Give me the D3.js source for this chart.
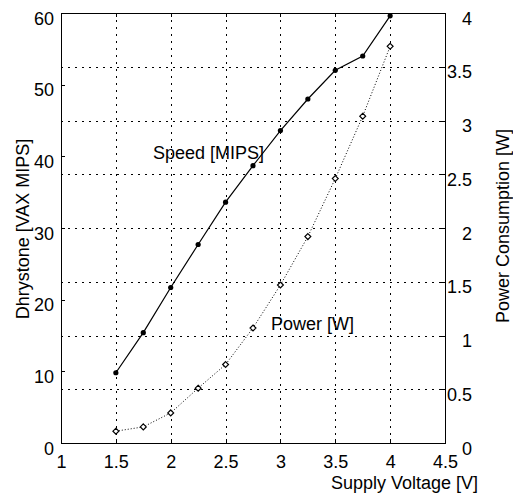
<!DOCTYPE html>
<html>
<head>
<meta charset="utf-8">
<script src="https://cdn.jsdelivr.net/npm/d3@7"></script>
<style>
  body { margin: 0; background: #fff; }
  text { font-family: "Liberation Sans", Arial, sans-serif; font-size: 18px; fill: #000; }
</style>
</head>
<body>
<div id="chart"></div>
<script>
// supply voltage samples and the two measured series
const voltage = [1.5, 1.75, 2.0, 2.25, 2.5, 2.75, 3.0, 3.25, 3.5, 3.75, 4.0];
const speed = [9.8, 15.4, 21.7, 27.7, 33.6, 38.7, 43.6, 48.0, 52.0, 54.0, 59.6];
const power = [0.11, 0.15, 0.28, 0.51, 0.73, 1.07, 1.47, 1.92, 2.46, 3.04, 3.69];

const xTicks = [1, 1.5, 2, 2.5, 3, 3.5, 4, 4.5];
const leftTicks = [0, 10, 20, 30, 40, 50, 60];
const rightTicks = [0, 0.5, 1, 1.5, 2, 2.5, 3, 3.5, 4];

const W = 513, H = 495;
const m = { left: 61, right: 445, top: 13, bottom: 443 };

const svg = d3.select('#chart').append('svg')
  .attr('width', W).attr('height', H);

const x = d3.scaleLinear().domain([1, 4.5]).range([m.left, m.right]);
const yL = d3.scaleLinear().domain([0, 60]).range([m.bottom, m.top]);
const yR = d3.scaleLinear().domain([0, 4]).range([m.bottom, m.top]);

// Grid (vertical at x ticks, horizontal at right-axis ticks)
const grid = svg.append('g').attr('stroke', '#000').attr('stroke-width', 1)
  .attr('stroke-dasharray', '2,5').attr('shape-rendering', 'crispEdges');
grid.selectAll('line.v').data(xTicks.slice(1, -1)).join('line')
  .attr('x1', d => Math.round(x(d)) + 0.5).attr('x2', d => Math.round(x(d)) + 0.5)
  .attr('y1', m.top).attr('y2', m.bottom);
grid.selectAll('line.h').data(rightTicks.slice(1, -1)).join('line')
  .attr('y1', d => Math.round(yR(d)) + 0.5).attr('y2', d => Math.round(yR(d)) + 0.5)
  .attr('x1', m.left).attr('x2', m.right);

// Axes with inward ticks
const ax = svg.append('g').attr('shape-rendering', 'crispEdges');
ax.append('g').attr('transform', `translate(0,${m.bottom})`)
  .call(d3.axisBottom(x).tickValues(xTicks).tickSizeInner(-4).tickSizeOuter(0).tickFormat(d3.format('')))
  .call(g => g.selectAll('text').attr('dy', '1.2em'));
ax.append('g').attr('transform', `translate(0,${m.top})`)
  .call(d3.axisTop(x).tickValues(xTicks).tickSizeInner(-4).tickSizeOuter(0).tickFormat(''));
ax.append('g').attr('transform', `translate(${m.left},0)`)
  .call(d3.axisLeft(yL).tickValues(leftTicks).tickSizeInner(-4).tickSizeOuter(0))
  .call(g => g.selectAll('text').attr('x', -7).attr('dy', '0.62em'));
ax.append('g').attr('transform', `translate(${m.right},0)`)
  .call(d3.axisRight(yR).tickValues(rightTicks).tickSizeInner(-4).tickSizeOuter(0).tickFormat(d3.format('')))
  .call(g => g.selectAll('text').attr('text-anchor', 'end').attr('x', 27).attr('dy', '0.62em'));
ax.selectAll('.domain').attr('stroke', '#000');
ax.selectAll('.tick line').attr('stroke', '#000');
ax.selectAll('.tick text').attr('font-size', null).attr('font-family', null).attr('fill', '#000');

// Speed series
const speedData = voltage.map((v, i) => [v, speed[i]]);
svg.append('path').datum(speedData)
  .attr('fill', 'none').attr('stroke', '#000').attr('stroke-width', 1.2)
  .attr('d', d3.line().x(d => x(d[0])).y(d => yL(d[1])));
svg.append('g').selectAll('circle').data(speedData).join('circle')
  .attr('cx', d => x(d[0])).attr('cy', d => yL(d[1])).attr('r', 2.6).attr('fill', '#000');

// Power series
const powerData = voltage.map((v, i) => [v, power[i]]);
svg.append('path').datum(powerData)
  .attr('fill', 'none').attr('stroke', '#000').attr('stroke-width', 1)
  .attr('stroke-dasharray', '1,2')
  .attr('d', d3.line().x(d => x(d[0])).y(d => yR(d[1])));
svg.append('g').selectAll('path.m').data(powerData).join('path')
  .attr('transform', d => `translate(${x(d[0])},${yR(d[1])})`)
  .attr('d', d3.symbol(d3.symbolDiamond2, 22))
  .attr('fill', '#fff').attr('stroke', '#000').attr('stroke-width', 1.2);

// Annotations
svg.append('text').attr('x', 153).attr('y', 159).text('Speed [MIPS]');
svg.append('text').attr('x', 271).attr('y', 330).text('Power [W]');

// Axis titles
svg.append('text').attr('x', 478).attr('y', 489).attr('text-anchor', 'end').text('Supply Voltage [V]');
svg.append('text').attr('transform', 'translate(29,229) rotate(-90)').attr('text-anchor', 'middle')
  .text('Dhrystone [VAX MIPS]');
svg.append('text').attr('transform', 'translate(509,226) rotate(-90)').attr('text-anchor', 'middle')
  .text('Power Consumption [W]');
</script>
</body>
</html>
